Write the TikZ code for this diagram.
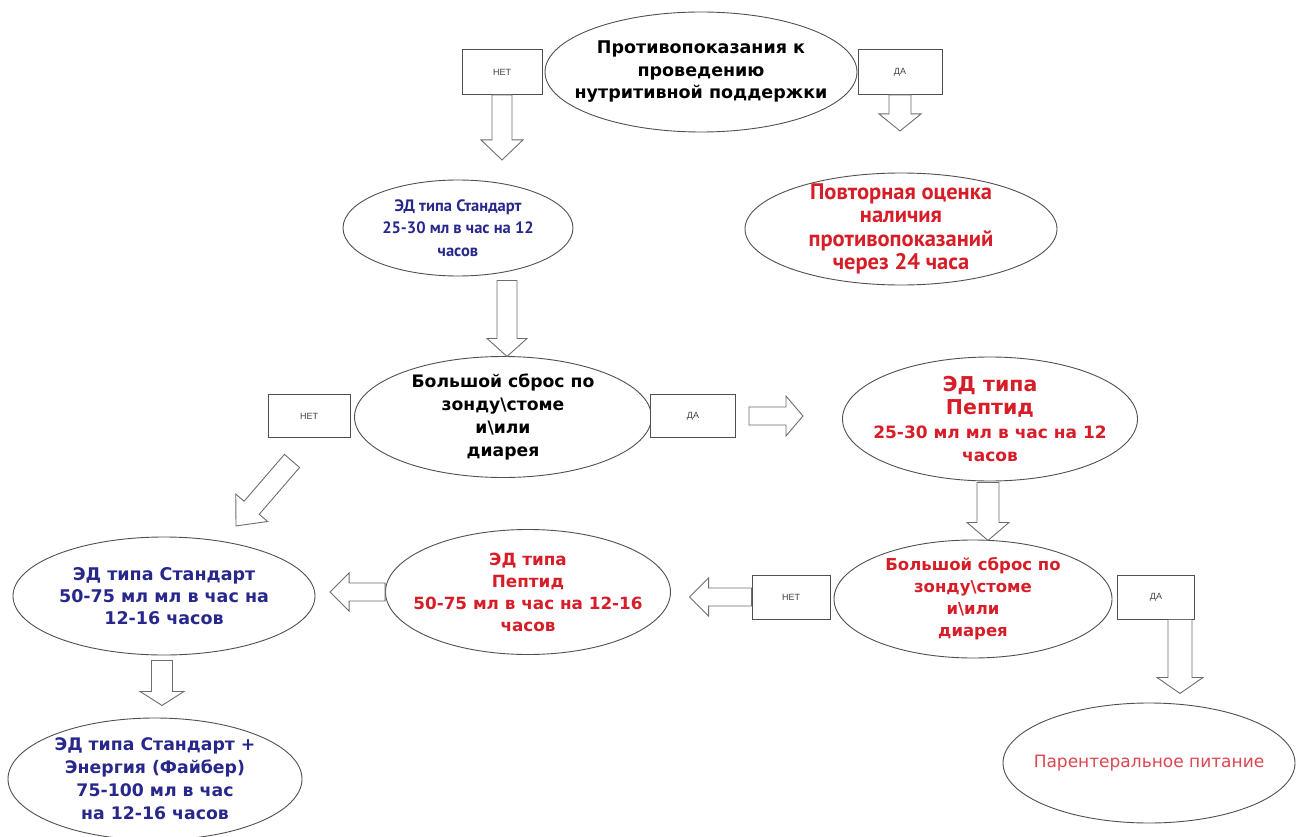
\documentclass[tikz,border=0pt]{standalone}
\usepackage{fontspec}
\setmainfont{DejaVu Sans}
\newfontfamily\ptsans{PT Sans}
\newfontfamily\libsans{Liberation Sans}
\usetikzlibrary{shapes.geometric,calc}
\definecolor{dblue}{RGB}{40,40,140}
\definecolor{dred}{RGB}{215,30,40}
\definecolor{lred}{RGB}{220,70,80}
\definecolor{ecol}{RGB}{80,80,80}
\definecolor{acol}{RGB}{110,110,110}
\tikzset{
  oval/.style={ellipse,draw=ecol,line width=0.9pt,inner sep=0pt,fill=white},
  txt/.style={align=center,inner sep=0pt},
  lbox/.style={rectangle,draw=ecol,line width=0.9pt,inner sep=0pt,fill=white,font=\libsans\fontsize{9}{11}\selectfont,text=black!75},
  barrow/.style={draw=acol,line width=0.9pt,fill=white,line join=miter},
}
\newcommand\bigln{\fontsize{20.5}{23.5}\selectfont}
\newcommand\smlln{\fontsize{17}{23.5}\selectfont}
\newcommand\blockarrow[5]{%
  \path ($(#2)!#5!(#1)$) coordinate (bah);
  \draw[barrow] ($(#1)!#3!90:(#2)$) -- ($(bah)!#3!90:(#2)$) -- ($(bah)!#4!90:(#2)$) -- (#2)
    -- ($(bah)!#4!-90:(#2)$) -- ($(bah)!#3!-90:(#2)$) -- ($(#1)!#3!-90:(#2)$) -- cycle;}
\begin{document}
\begin{tikzpicture}[x=1pt,y=-1pt]
\useasboundingbox[fill=white] (0,0) rectangle (1296,837);
% nodes
\node[oval,minimum width=312pt,minimum height=120pt,
  label={[txt,font=\bfseries\fontsize{17.5}{22.5}\selectfont]center:{Противопоказания к\\проведению\\нутритивной поддержки}}] (top) at (701,72) {};
\node[lbox,minimum width=80pt,minimum height=45pt] (netA) at (502,72) {НЕТ};
\node[lbox,minimum width=84pt,minimum height=45pt] (daA) at (900,72) {ДА};
\node[oval,minimum width=230pt,minimum height=96pt,
  label={[txt,text=dblue,font=\ptsans\bfseries\fontsize{16.5}{22.5}\selectfont]center:{ЭД типа Стандарт\\25-30 мл в час на 12\\часов}}] (std1) at (458,228) {};
\node[oval,minimum width=312pt,minimum height=112pt,
  label={[txt,text=dred,font=\ptsans\bfseries\fontsize{22.5}{23.5}\selectfont]center:{Повторная оценка\\наличия\\противопоказаний\\через 24 часа}}] (povt) at (901,229) {};
\node[oval,minimum width=297pt,minimum height=121pt,
  label={[txt,font=\bfseries\fontsize{17.2}{23}\selectfont]center:{Большой сброс по\\зонду\textbackslash стоме\\и\textbackslash или\\диарея}}] (big1) at (503,417) {};
\node[lbox,minimum width=82pt,minimum height=43pt] (netB) at (309,416) {НЕТ};
\node[lbox,minimum width=85pt,minimum height=43pt] (daB) at (693,416) {ДА};
\node[oval,minimum width=295pt,minimum height=124pt,
  label={[txt,text=dred,font=\bfseries\smlln]center:{\bigln ЭД типа\\\bigln Пептид\\\smlln 25-30 мл мл в час на 12\\\smlln часов}}] (pep1) at (990,419) {};
\node[oval,minimum width=278pt,minimum height=118pt,
  label={[txt,text=dred,font=\bfseries\fontsize{16.5}{22}\selectfont]center:{Большой сброс по\\зонду\textbackslash стоме\\и\textbackslash или\\диарея}}] (big2) at (973,599) {};
\node[lbox,minimum width=78pt,minimum height=44pt] (netC) at (791,597) {НЕТ};
\node[lbox,minimum width=77pt,minimum height=44pt] (daD) at (1156,597) {ДА};
\node[oval,minimum width=285pt,minimum height=125pt,
  label={[txt,text=dred,font=\bfseries\fontsize{16.8}{22}\selectfont]center:{ЭД типа\\Пептид\\50-75 мл в час на 12-16\\часов}}] (pep2) at (528,592) {};
\node[oval,minimum width=302pt,minimum height=118pt,
  label={[txt,text=dblue,font=\bfseries\fontsize{17.5}{22}\selectfont]center:{ЭД типа Стандарт\\50-75 мл мл в час на\\12-16 часов}}] (std2) at (164,596) {};
\node[oval,minimum width=294pt,minimum height=122pt,
  label={[txt,text=dblue,font=\bfseries\fontsize{17.3}{23}\selectfont]center:{ЭД типа Стандарт +\\Энергия (Файбер)\\75-100 мл в час\\на 12-16 часов}}] (stdp) at (155,779) {};
\node[oval,minimum width=292pt,minimum height=120pt,
  label={[txt,text=lred,font=\fontsize{17}{20}\selectfont]center:{Парентеральное питание}}] (par) at (1149,763) {};
% arrow end points
\coordinate (a1s) at (netA.south);       \coordinate (a1e) at ($(netA.south)+(0,65)$);
\coordinate (a2s) at (daA.south);        \coordinate (a2e) at ($(daA.south)+(0,36)$);
\coordinate (a3s) at ($(std1.south)+(49,4)$); \coordinate (a3e) at ($(std1.south)+(49,80)$);
\coordinate (a4s) at ($(daB.east)+(13,0)$);   \coordinate (a4e) at ($(daB.east)+(67,0)$);
\coordinate (a5s) at ($(netB.south)+(-17,23)$); \coordinate (a5e) at ($(netB.south)+(-73,88)$);
\coordinate (a6s) at ($(pep1.south)+(-2,1)$);  \coordinate (a6e) at ($(pep1.south)+(-2,59)$);
\coordinate (a7s) at (netC.west);        \coordinate (a7e) at ($(netC.west)+(-62,0)$);
\coordinate (a8s) at (pep2.west);        \coordinate (a8e) at ($(pep2.west)+(-55,0)$);
\coordinate (a9s) at ($(std2.south)+(-2,5)$); \coordinate (a9e) at ($(std2.south)+(-2,50)$);
\coordinate (a10s) at ($(daD.south)+(24,0)$);  \coordinate (a10e) at ($(daD.south)+(24,74)$);
% block arrows
\blockarrow{a1s}{a1e}{10pt}{21pt}{20pt}
\blockarrow{a2s}{a2e}{11pt}{21pt}{17pt}
\blockarrow{a3s}{a3e}{10pt}{20pt}{18pt}
\blockarrow{a4s}{a4e}{9pt}{20pt}{17pt}
\blockarrow{a5s}{a5e}{10pt}{21pt}{24pt}
\blockarrow{a6s}{a6e}{11pt}{21pt}{18pt}
\blockarrow{a7s}{a7e}{9pt}{19pt}{19pt}
\blockarrow{a8s}{a8e}{9pt}{19pt}{19pt}
\blockarrow{a9s}{a9e}{10.5pt}{22pt}{14pt}
\blockarrow{a10s}{a10e}{12pt}{23pt}{16pt}
\end{tikzpicture}
\end{document}
